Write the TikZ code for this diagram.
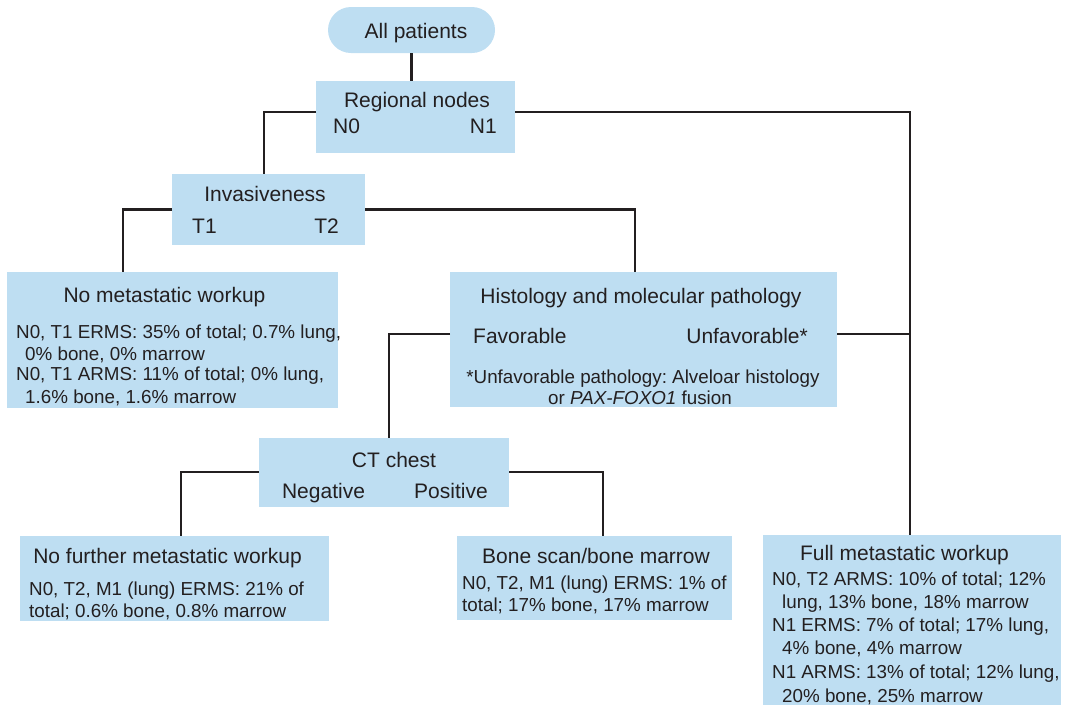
\documentclass[tikz,border=0pt]{standalone}
\usepackage{fontspec}
\setmainfont{Liberation Sans}
\usetikzlibrary{positioning}
\definecolor{boxblue}{RGB}{190,222,242}
\definecolor{inkgray}{RGB}{35,31,32}
\frenchspacing

\begin{document}
\begin{tikzpicture}[x=1pt, y=-1pt,
    box/.style={fill=boxblue, draw=none, anchor=north west, inner sep=0pt, outer sep=0pt},
    head/.style={text=inkgray, font=\fontsize{21}{24}\selectfont, inner sep=0pt, anchor=base},
    body/.style={text=inkgray, font=\fontsize{18.8}{22}\selectfont, inner sep=0pt, anchor=base west},
    link/.style={draw=inkgray, line width=2.3pt}]
    \useasboundingbox (0,0) rectangle (1068,705);

    % Kästen
    \node[box, minimum width=167pt, minimum height=46pt, rounded corners=23pt] (allp) at (328,7) {};
    \node[box, minimum width=199pt, minimum height=72pt] (regional) at (316,81) {};
    \node[box, minimum width=193pt, minimum height=71pt] (invas) at (172,174) {};
    \node[box, minimum width=331pt, minimum height=136pt] (nometa) at (7,272) {};
    \node[box, minimum width=387pt, minimum height=135pt] (histo) at (450,272) {};
    \node[box, minimum width=250pt, minimum height=69pt] (ct) at (259,438) {};
    \node[box, minimum width=309pt, minimum height=85pt] (nofurther) at (20,536) {};
    \node[box, minimum width=275pt, minimum height=84pt] (bonescan) at (457,536) {};
    \node[box, minimum width=298pt, minimum height=170pt] (fullmeta) at (763,535) {};

    % Ecken der Verbindungen
    \coordinate (jA) at (264,112);
    \coordinate (jB) at (910,112);
    \coordinate (jC) at (123,209.5);
    \coordinate (jD) at (635,209.5);
    \coordinate (jE) at (389,334);
    \coordinate (jF) at (181,472);
    \coordinate (jG) at (603,472);

    % Verbindungen
    \draw[link] (allp.south) -- (allp.south |- regional.north);
    \draw[link] (regional.west |- jA) -- (jA) -- (jA |- invas.north);
    \draw[link] (regional.east |- jB) -- (jB) -- (jB |- fullmeta.north);
    \draw[link] (invas.west |- jC) -- (jC) -- (jC |- nometa.north);
    \draw[link] (invas.east |- jD) -- (jD) -- (jD |- histo.north);
    \draw[link] (histo.west |- jE) -- (jE) -- (jE |- ct.north);
    \draw[link] (histo.east |- jE) -- (jB |- jE);
    \draw[link] (ct.west |- jF) -- (jF) -- (jF |- nofurther.north);
    \draw[link] (ct.east |- jG) -- (jG) -- (jG |- bonescan.north);

    % Beschriftungen oben
    \node[head] (allptxt) at (416,38) {All patients};
    \node[head] (regtxt) at (417,107) {Regional nodes};
    \node[head, anchor=base west] (nzero) at (333,133) {N0};
    \node[head, anchor=base east] (none) at (497,133) {N1};
    \node[head] (invtxt) at (265,201) {Invasiveness};
    \node[head, anchor=base west] (tone) at (192,233) {T1};
    \node[head, anchor=base east] (ttwo) at (339,233) {T2};

    % keine Metastasensuche
    \node[head] (nometatxt) at (164.5,302) {No metastatic workup};
    \node[body] (nometaa) at (16,338) {N0, T1 ERMS: 35\% of total; 0.7\% lung,};
    \node[body] (nometab) at (25,360) {0\% bone, 0\% marrow};
    \node[body] (nometac) at (16,380) {N0, T1 ARMS: 11\% of total; 0\% lung,};
    \node[body] (nometad) at (25,403) {1.6\% bone, 1.6\% marrow};

    % Histologie
    \node[head] (histotxt) at (641,303) {Histology and molecular pathology};
    \node[head, anchor=base west] (fav) at (473,343) {Favorable};
    \node[head, anchor=base east] (unfav) at (808,343) {Unfavorable*};
    \node[body, anchor=base] (notea) at (643,383) {*Unfavorable pathology: Alveloar histology};
    \node[body, anchor=base] (noteb) at (640,404) {or \textit{PAX-FOXO1} fusion};

    % CT Thorax
    \node[head] (cttxt) at (394,467) {CT chest};
    \node[head] (neg) at (323.5,498) {Negative};
    \node[head] (pos) at (451,498) {Positive};

    % untere Reihe
    \node[head] (nofurthertxt) at (167.5,563) {No further metastatic workup};
    \node[body] (nofurthera) at (29,595) {N0, T2, M1 (lung) ERMS: 21\% of};
    \node[body] (nofurtherb) at (29,617) {total; 0.6\% bone, 0.8\% marrow};

    \node[head] (bonetxt) at (596,563) {Bone scan/bone marrow};
    \node[body] (bonea) at (462,589) {N0, T2, M1 (lung) ERMS: 1\% of};
    \node[body] (boneb) at (462,611) {total; 17\% bone, 17\% marrow};

    \node[head] (fulltxt) at (904.5,560) {Full metastatic workup};
    \node[body] (fulla) at (772,585) {N0, T2 ARMS: 10\% of total; 12\%};
    \node[body] (fullb) at (782,608) {lung, 13\% bone, 18\% marrow};
    \node[body] (fullc) at (772,631) {N1 ERMS: 7\% of total; 17\% lung,};
    \node[body] (fulld) at (782,654) {4\% bone, 4\% marrow};
    \node[body] (fulle) at (772,678) {N1 ARMS: 13\% of total; 12\% lung,};
    \node[body] (fullf) at (782,702) {20\% bone, 25\% marrow};
\end{tikzpicture}
\end{document}
